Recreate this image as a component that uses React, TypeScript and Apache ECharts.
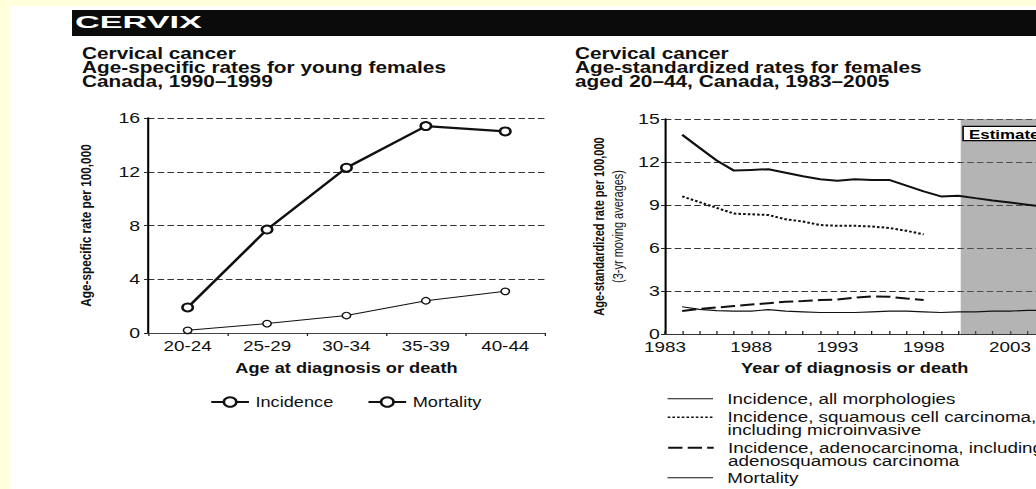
import React, { useEffect, useRef } from "react";
import * as echarts from "echarts";

// The scanned reference is stretched horizontally; the chart is drawn at a
// narrower width and widened with a CSS scaleX (the overflow is clipped).
const STRETCH = 1.3;
const W = 812;
const H = 489;
const FONT = '"Liberation Sans", Arial, Helvetica, sans-serif';

// ---------- Left chart: age-specific rates, Canada 1990–1999 ----------
const ageGroups = ["20-24", "25-29", "30-34", "35-39", "40-44"];
const ageIncidence = [1.9, 7.7, 12.3, 15.4, 15.0];
const ageMortality = [0.2, 0.7, 1.3, 2.4, 3.1];
const ageRateTicks = [0, 4, 8, 12, 16];

// ---------- Right chart: age-standardized rates, ages 20–44 ----------
const years = [
  1984, 1985, 1986, 1987, 1988, 1989, 1990, 1991, 1992, 1993, 1994,
  1995, 1996, 1997, 1998, 1999, 2000, 2001, 2002, 2003, 2004, 2005,
];
const trendIncidenceAll = [
  13.9, 13.0, 12.1, 11.4, 11.45, 11.5, 11.25, 11.0, 10.8, 10.7, 10.8,
  10.75, 10.75, 10.35, 9.95, 9.6, 9.65, 9.48, 9.32, 9.17, 9.02, 8.87,
];
const trendSquamous = [
  9.6, 9.2, 8.8, 8.4, 8.35, 8.3, 8.0, 7.85, 7.6, 7.55, 7.55, 7.5, 7.4, 7.2, 6.95,
];
const trendAdeno = [
  1.6, 1.75, 1.85, 1.95, 2.05, 2.15, 2.25, 2.3, 2.37, 2.4, 2.53, 2.63, 2.6, 2.47, 2.38,
];
const trendMortality = [
  1.9, 1.72, 1.63, 1.6, 1.6, 1.7, 1.6, 1.55, 1.5, 1.5, 1.5, 1.55, 1.6, 1.6,
  1.55, 1.5, 1.55, 1.55, 1.6, 1.6, 1.65, 1.65,
];
const yearTickLabels = [1983, 1988, 1993, 1998, 2003];
const yearRange = [1983, 2005];
const estimatedFrom = 2000.15;
const stdRateTicks = [0, 3, 6, 9, 12, 15];

const NAME_ALL = "Incidence, all morphologies";
const NAME_SQ = "Incidence, squamous cell carcinoma, including microinvasive";
const NAME_AD = "Incidence, adenocarcinoma, including adenosquamous carcinoma";
const NAME_MORT = "Mortality, ages 20–44";

const pairs = (arr: number[]) => arr.map((v, i) => [years[i], v]);

const labelStyle = { fontFamily: FONT, fontSize: 14.5, color: "#111" };
const nameStyle = { fontFamily: FONT, fontSize: 14, fontWeight: "bold", color: "#111" };
const gridLine = { show: true, lineStyle: { color: "#333", width: 1, type: [5, 2.5] } };

const rightLegend = (
  name: string,
  text: string,
  centerY: number,
  multiline: boolean,
  lineWidth: number
) => ({
  data: [name],
  orient: "vertical",
  left: 513,
  top: multiline ? centerY - 20.25 : centerY - 6.75,
  itemWidth: 35,
  itemHeight: 12,
  padding: 0,
  selectedMode: false,
  formatter: () => text,
  itemStyle: { color: "rgba(0,0,0,0)", borderColor: "rgba(0,0,0,0)", borderWidth: 0, opacity: 0 },
  lineStyle: { width: lineWidth },
  textStyle: { fontFamily: FONT, fontSize: 14.5, lineHeight: 13.5, color: "#111", padding: [0, 0, 0, 6] },
});

const option: any = {
  animation: false,
  textStyle: { fontFamily: FONT },
  graphic: [
    {
      type: "rect",
      silent: true,
      shape: { x: 55.4, y: 10, width: W - 55.4, height: 26 },
      style: { fill: "#0b0b0b" },
    },
    {
      type: "text",
      silent: true,
      x: 57.7,
      y: 22,
      scaleX: 1.55,
      style: { text: "CERVIX", fill: "#fff", font: `bold 17px ${FONT}`, verticalAlign: "middle" },
    },
  ],
  title: [
    {
      text: "Cervical cancer\nAge-specific rates for young females\nCanada, 1990–1999",
      left: 63.1,
      top: 46,
      padding: 0,
      textStyle: { fontFamily: FONT, fontSize: 16, fontWeight: "bold", lineHeight: 14.3, color: "#111" },
    },
    {
      text: "Cervical cancer\nAge-standardized rates for females\naged 20–44, Canada, 1983–2005",
      left: 442.3,
      top: 46,
      padding: 0,
      textStyle: { fontFamily: FONT, fontSize: 16, fontWeight: "bold", lineHeight: 14.3, color: "#111" },
    },
  ],
  legend: [
    {
      data: ["Incidence", "Mortality"],
      left: 161.5,
      top: 395,
      itemWidth: 29,
      itemHeight: 12,
      itemGap: 26,
      padding: 0,
      selectedMode: false,
      textStyle: { fontFamily: FONT, fontSize: 14, color: "#111" },
    },
    rightLegend(NAME_ALL, "Incidence, all morphologies", 398, false, 1),
    rightLegend(NAME_SQ, "\nIncidence, squamous cell carcinoma,\nincluding microinvasive", 416.5, true, 1.3),
    rightLegend(NAME_AD, "\nIncidence, adenocarcinoma, including\nadenosquamous carcinoma", 447, true, 2),
    rightLegend(NAME_MORT, "Mortality", 477, false, 1),
  ],
  grid: [
    { left: 113.8, top: 118, width: 305.4, height: 215 },
    { left: 511.5, top: 119, width: 291.9, height: 215 },
  ],
  xAxis: [
    {
      gridIndex: 0,
      type: "category",
      data: ageGroups,
      boundaryGap: true,
      axisLine: { lineStyle: { color: "#444", width: 1 } },
      axisTick: { show: true, length: 3, lineStyle: { color: "#222" } },
      axisLabel: { ...labelStyle, margin: 6 },
      splitLine: { show: false },
      name: "Age at diagnosis or death",
      nameLocation: "middle",
      nameGap: 28,
      nameTextStyle: nameStyle,
    },
    {
      gridIndex: 1,
      type: "value",
      min: yearRange[0],
      max: yearRange[1],
      interval: 1,
      axisLine: { lineStyle: { color: "#333", width: 1 } },
      axisTick: { show: true, inside: true, length: 3, lineStyle: { color: "#222" } },
      axisLabel: {
        ...labelStyle,
        margin: 6,
        formatter: (v: number) => (yearTickLabels.includes(v) ? String(v) : ""),
      },
      splitLine: { show: false },
      name: "Year of diagnosis or death",
      nameLocation: "middle",
      nameGap: 27,
      nameTextStyle: nameStyle,
    },
  ],
  yAxis: [
    {
      gridIndex: 0,
      type: "value",
      min: ageRateTicks[0],
      max: ageRateTicks[ageRateTicks.length - 1],
      interval: ageRateTicks[1] - ageRateTicks[0],
      axisLine: { show: true, lineStyle: { color: "#000", width: 1.6 } },
      axisTick: { show: true, length: 3, lineStyle: { color: "#222" } },
      axisLabel: { ...labelStyle, fontSize: 15, margin: 6 },
      splitLine: gridLine,
      name: "Age-specific rate per 100,000",
      nameLocation: "middle",
      nameGap: 41,
      nameTextStyle: { fontFamily: FONT, fontSize: 11.8, fontWeight: "bold", lineHeight: 14, color: "#111" },
    },
    {
      gridIndex: 1,
      type: "value",
      min: stdRateTicks[0],
      max: stdRateTicks[stdRateTicks.length - 1],
      interval: stdRateTicks[1] - stdRateTicks[0],
      axisLine: { show: true, lineStyle: { color: "#000", width: 1.6 } },
      axisTick: { show: true, length: 3, lineStyle: { color: "#222" } },
      axisLabel: { ...labelStyle, fontSize: 15, margin: 4 },
      splitLine: gridLine,
      name: "{a|Age-standardized rate per 100,000}\n{b|(3-yr moving averages)}",
      nameLocation: "middle",
      nameGap: 29,
      nameTextStyle: {
        color: "#111",
        rich: {
          a: { fontFamily: FONT, fontSize: 11, fontWeight: "bold", lineHeight: 14.6, color: "#111" },
          b: { fontFamily: FONT, fontSize: 11, lineHeight: 14.6, color: "#111" },
        },
      },
    },
  ],
  series: [
    {
      name: "Incidence",
      type: "line",
      xAxisIndex: 0,
      yAxisIndex: 0,
      data: ageIncidence,
      symbol: "circle",
      symbolSize: 8,
      lineStyle: { color: "#111", width: 2.2 },
      itemStyle: { color: "#fff", borderColor: "#111", borderWidth: 2 },
      z: 3,
    },
    {
      name: "Mortality",
      type: "line",
      xAxisIndex: 0,
      yAxisIndex: 0,
      data: ageMortality,
      symbol: "circle",
      symbolSize: 6.5,
      lineStyle: { color: "#111", width: 1 },
      itemStyle: { color: "#fff", borderColor: "#111", borderWidth: 1.2 },
      z: 3,
    },
    {
      name: NAME_ALL,
      type: "line",
      xAxisIndex: 1,
      yAxisIndex: 1,
      data: pairs(trendIncidenceAll),
      symbol: "none",
      lineStyle: { color: "#111", width: 2 },
      itemStyle: { color: "#111" },
      z: 3,
      markArea: {
        silent: true,
        itemStyle: { color: "rgba(105,105,105,0.5)" },
        label: {
          show: true,
          position: [2.4, 8],
          formatter: "Estimated",
          color: "#000",
          fontFamily: FONT,
          fontWeight: "bold",
          fontSize: 13,
          lineHeight: 12,
          backgroundColor: "#fff",
          borderColor: "#000",
          borderWidth: 1.2,
          padding: [1, 4, 0, 4],
        },
        data: [[{ xAxis: estimatedFrom }, { xAxis: yearRange[1] }]],
      },
    },
    {
      name: NAME_SQ,
      type: "line",
      xAxisIndex: 1,
      yAxisIndex: 1,
      data: pairs(trendSquamous),
      symbol: "none",
      lineStyle: { color: "#111", width: 2, type: [2, 1.6] },
      itemStyle: { color: "#111" },
      z: 3,
    },
    {
      name: NAME_AD,
      type: "line",
      xAxisIndex: 1,
      yAxisIndex: 1,
      data: pairs(trendAdeno),
      symbol: "none",
      lineStyle: { color: "#111", width: 2, type: [11, 4] },
      itemStyle: { color: "#111" },
      z: 3,
    },
    {
      name: NAME_MORT,
      type: "line",
      xAxisIndex: 1,
      yAxisIndex: 1,
      data: pairs(trendMortality),
      symbol: "none",
      lineStyle: { color: "#111", width: 1.2 },
      itemStyle: { color: "#111" },
      z: 3,
    },
  ],
};

export default function App() {
  const ref = useRef<HTMLDivElement>(null);
  useEffect(() => {
    if (!ref.current) return;
    const chart = echarts.init(ref.current, null, { renderer: "svg", width: W, height: H });
    chart.setOption(option);
    return () => chart.dispose();
  }, []);
  return (
    <div
      style={{
        position: "fixed",
        left: 0,
        top: 0,
        width: 1036,
        height: 489,
        background: "#ffffdc",
        overflow: "hidden",
      }}
    >
      <div style={{ position: "absolute", left: 10, top: 6, right: 0, bottom: 0, background: "#fff" }} />
      <div
        ref={ref}
        style={{
          position: "absolute",
          left: 0,
          top: 0,
          width: W,
          height: H,
          transform: `scaleX(${STRETCH})`,
          transformOrigin: "0 0",
        }}
      />
    </div>
  );
}
